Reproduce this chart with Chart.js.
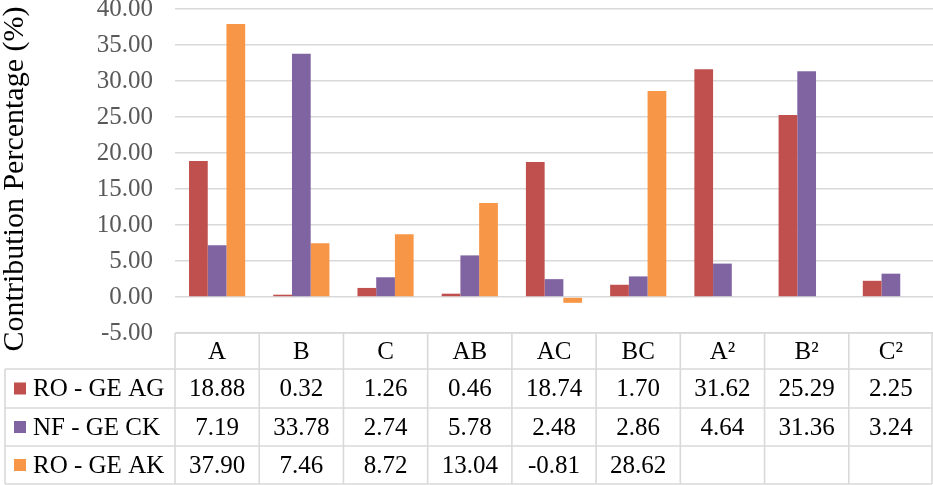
<!DOCTYPE html>
<html>
<head>
<meta charset="utf-8">
<script src="https://cdn.jsdelivr.net/npm/chart.js@4"></script>
<style>
html,body{margin:0;padding:0;background:#fff;}
#wrap{width:933px;height:485px;position:relative;}
</style>
</head>
<body>
<div id="wrap"><canvas id="c" width="933" height="485"></canvas></div>
<script>
const categories = ['A', 'B', 'C', 'AB', 'AC', 'BC', 'A²', 'B²', 'C²'];
const seriesNames = ['RO - GE AG', 'NF - GE CK', 'RO - GE AK'];
const roGeAG = [18.88, 0.32, 1.26, 0.46, 18.74, 1.70, 31.62, 25.29, 2.25];
const nfGeCK = [7.19, 33.78, 2.74, 5.78, 2.48, 2.86, 4.64, 31.36, 3.24];
const roGeAK = [37.90, 7.46, 8.72, 13.04, -0.81, 28.62, null, null, null];
const yTicks = [-5, 0, 5, 10, 15, 20, 25, 30, 35, 40];
const yTitle = 'Contribution Percentage (%)';
const colors = ['#c0504d', '#8064a2', '#f79646'];
const seriesValues = [roGeAG, nfGeCK, roGeAK];

const FONT = "'Liberation Serif', 'Times New Roman', serif";
const GRID = '#d9d9d9';

const tablePlugin = {
  id: 'dataTable',
  afterDraw(chart) {
    const ctx = chart.ctx;
    const xs = chart.scales.x;
    const area = chart.chartArea;
    const n = categories.length;
    const cw = (area.right - area.left) / n;
    const top = area.bottom;
    const headerH = 36;
    const rowH = [39, 38, 38];
    const leftX = 5;
    const rightX = area.right - 1;
    const rowsY = [top, top + headerH];
    for (let i = 0; i < rowH.length; i++) rowsY.push(rowsY[rowsY.length - 1] + rowH[i]);
    const bottomY = rowsY[rowsY.length - 1];

    ctx.save();
    ctx.strokeStyle = GRID;
    ctx.lineWidth = 1.6;
    ctx.beginPath();
    ctx.moveTo(area.left, rowsY[0]); ctx.lineTo(rightX, rowsY[0]);
    for (let r = 1; r < rowsY.length; r++) {
      ctx.moveTo(leftX, rowsY[r]); ctx.lineTo(rightX, rowsY[r]);
    }
    ctx.moveTo(leftX, rowsY[1]); ctx.lineTo(leftX, bottomY);
    for (let i = 0; i <= n; i++) {
      let x = i === n ? rightX : xs.getPixelForValue(i) - cw / 2;
      ctx.moveTo(x, rowsY[0]); ctx.lineTo(x, bottomY);
    }
    ctx.stroke();

    ctx.fillStyle = '#000';
    ctx.font = '25px ' + FONT;
    ctx.textAlign = 'center';
    ctx.textBaseline = 'middle';
    categories.forEach((c, i) => {
      ctx.fillText(c, xs.getPixelForValue(i), (rowsY[0] + rowsY[1]) / 2 + 1);
    });
    seriesValues.forEach((vals, s) => {
      const cy = (rowsY[s + 1] + rowsY[s + 2]) / 2 + 1;
      vals.forEach((v, i) => {
        if (v === null) return;
        ctx.fillText(v.toFixed(2), xs.getPixelForValue(i), cy);
      });
    });
    ctx.textAlign = 'left';
    seriesNames.forEach((name, s) => {
      const cy = (rowsY[s + 1] + rowsY[s + 2]) / 2;
      ctx.fillStyle = colors[s];
      ctx.fillRect(14, cy - 6, 12, 12);
      ctx.fillStyle = '#000';
      ctx.fillText(name, 33, cy + 1);
    });

    // y-axis title
    ctx.save();
    ctx.translate(15, 179);
    ctx.rotate(-Math.PI / 2);
    ctx.textAlign = 'center';
    ctx.textBaseline = 'middle';
    ctx.font = '30px ' + FONT;
    ctx.fillStyle = '#000';
    ctx.fillText(yTitle, 0, 0);
    ctx.restore();
    ctx.restore();
  }
};

new Chart(document.getElementById('c'), {
  type: 'bar',
  data: {
    labels: categories,
    datasets: seriesNames.map((name, s) => ({
      label: name,
      data: seriesValues[s],
      backgroundColor: colors[s],
      borderWidth: 0,
      categoryPercentage: 0.667,
      barPercentage: 1.0
    }))
  },
  options: {
    responsive: false,
    animation: false,
    devicePixelRatio: 1,
    layout: { padding: { top: 9, right: 0, bottom: 152, left: 0 } },
    plugins: { legend: { display: false }, tooltip: { enabled: false } },
    scales: {
      x: { display: false, offset: true },
      y: {
        min: -5, max: 40,
        afterBuildTicks(scale) { scale.ticks = yTicks.map(v => ({ value: v })); },
        afterFit(scale) { scale.width = 175; scale.paddingTop = 0; scale.paddingBottom = 0; },
        border: { display: false },
        grid: { color: GRID, lineWidth: 1.6, drawTicks: false },
        ticks: {
          padding: 22,
          color: '#595959',
          font: { family: FONT, size: 25, lineHeight: 1 },
          callback: v => Number(v).toFixed(2)
        },
        title: { display: false }
      }
    }
  },
  plugins: [tablePlugin]
});
</script>
</body>
</html>
